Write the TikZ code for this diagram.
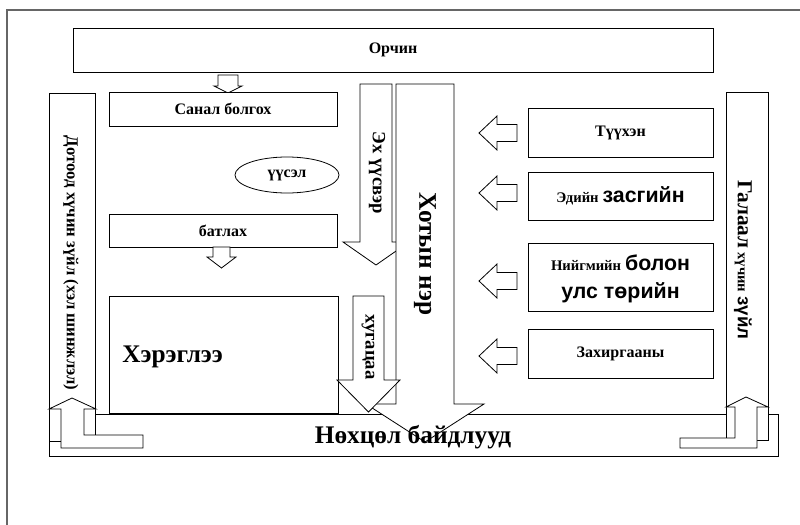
\documentclass[tikz,border=0pt]{standalone}
\usepackage{fontspec}
\setmainfont{Liberation Serif}
\newfontfamily\sansfont{Liberation Sans}
\usetikzlibrary{shapes.geometric}

\tikzset{
  box/.style={draw, fill=white, line width=0.6pt},
  blockarrow/.style={draw, fill=white, line width=0.6pt, line join=miter},
  lbl/.style={font=\bfseries\fontsize{12}{14}\selectfont, inner sep=0pt},
  biglbl/.style={font=\bfseries\fontsize{19}{22}\selectfont, inner sep=0pt},
}
\newcommand{\fs}[1]{\fontsize{#1}{#1}\selectfont}

\begin{document}
\begin{tikzpicture}[x=0.75pt, y=-0.75pt]
	\useasboundingbox (0,0) rectangle (800,525);
	\draw[black!60, line width=0.8pt] (7,525) -- (7,10) -- (800,10);
	% environment and the left column
	\draw[box] (73,28) rectangle (713,72);
	\node[lbl] (orchin) at (393,50) {Орчин};
	\draw[blockarrow] (218,75) -- (238,75) -- (238,86) -- (242,86) -- (228,93) -- (214,86) -- (218,86) -- cycle;
	\draw[box] (109,92) rectangle (337,126);
	\node[lbl] (sanal) at (223,109) {Санал болгох};
	\node[draw, ellipse, line width=0.6pt, minimum width=78pt, minimum height=27pt, font=\bfseries\fs{12}] (usel) at (287,175) {үүсэл};
	\draw[box] (109,214) rectangle (337,247);
	\node[lbl] (batlah) at (223,230.5) {батлах};
	\draw[blockarrow] (213,247) -- (230,247) -- (230,257) -- (236,257) -- (221.5,268) -- (207,257) -- (213,257) -- cycle;
	\draw[box] (109,296) rectangle (338,413);
	\node[biglbl, anchor=west] (hereglee) at (122,357) {Хэрэглээ};
	% conditions
	\draw[box] (49,414) rectangle (778,456);
	% inner and outer factors
	\draw[box] (49,93) rectangle (95,441);
	\node[lbl, font=\bfseries\fs{12.5}, rotate=-90] (dotood) at (71,263) {Дотоод хүчин зүйл (хэл шинжлэл)};
	\draw[blockarrow] (61,448) -- (143,448) -- (143,435) -- (84,435) -- (84,409) -- (96,409) -- (72,398) -- (49,409) -- (61,409) -- cycle;
	\draw[box] (726,92) rectangle (768,440);
	\node[lbl, rotate=-90] (galaal) at (743,260) {{\fs{16}Галаал} {\fs{11}хүчин} {\sansfont\fs{14}зүйл}};
	\draw[blockarrow] (757,448) -- (680,448) -- (680,438) -- (735,438) -- (735,407) -- (726,407) -- (746,397) -- (768,407) -- (757,407) -- cycle;
	% vertical arrows
	\draw[blockarrow] (360,84) -- (392,84) -- (392,242) -- (409,242) -- (376,265) -- (343,242) -- (360,242) -- cycle;
	\node[lbl, font=\bfseries\fs{14}, rotate=-90] (ehuusver) at (377,173) {Эх үүсвэр};
	\draw[blockarrow] (396,84) -- (454,84) -- (454,404) -- (484,404) -- (425,442) -- (366,404) -- (396,404) -- cycle;
	\node[biglbl, rotate=-90] (hotyn) at (425,254) {Хотын нэр};
	\draw[blockarrow] (353,296) -- (384,296) -- (384,380) -- (400,380) -- (368.5,412) -- (337,380) -- (353,380) -- cycle;
	\node[lbl, font=\bfseries\fs{14}, rotate=-90] (hugatsaa) at (368,347) {хугацаа};
	% outer factors
	\draw[box] (528,108) rectangle (713,157);
	\node[lbl] (tuuhen) at (620.5,132.5) {Түүхэн};
	\draw[box] (528,172) rectangle (713,220);
	\node[lbl] (ediin) at (620.5,196) {{\fs{11}Эдийн} {\sansfont\fs{16}засгийн}};
	\draw[box] (528,243) rectangle (713,311);
	\node[lbl, align=center] (niigmiin) at (620.5,279) {{\fs{11}Нийгмийн} {\sansfont\fs{16}болон}\\[7pt] {\sansfont\fs{16}улс төрийн}};
	\draw[box] (528,329) rectangle (713,378);
	\node[lbl] (zahirgaa) at (620.5,353.5) {Захиргааны};
	\foreach \cy in {133,193,281,356}
		\draw[blockarrow] (479,\cy) -- (497,\cy-17) -- (497,\cy-8.5) -- (517,\cy-8.5) -- (517,\cy+8.5) -- (497,\cy+8.5) -- (497,\cy+17) -- cycle;
	\node[biglbl] (nohtsol) at (413,437) {Нөхцөл байдлууд};
\end{tikzpicture}
\end{document}
